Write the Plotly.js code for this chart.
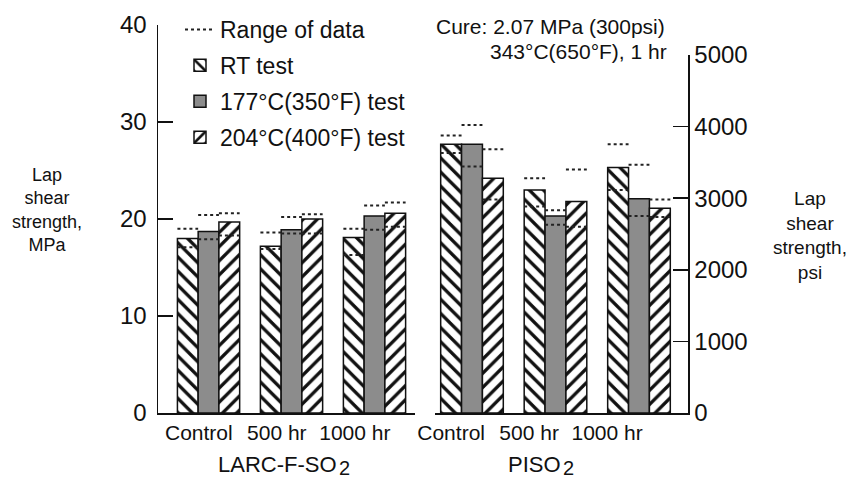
<!DOCTYPE html>
<html><head><meta charset="utf-8">
<script src="https://cdn.plot.ly/plotly-3.0.1.min.js"></script>
<style>html,body{margin:0;padding:0;background:#fff}#chart{width:860px;height:481px}</style>
</head><body><div id="chart"></div>
<script>
// ---------- data ----------
const groups = ['Control', '500 hr', '1000 hr'];
const seriesNames = ['RT test', '177°C(350°F) test', '204°C(400°F) test'];
const rangeName = 'Range of data';
const materials = ['LARC-F-SO', 'PISO'];
const materialSub = '2';

// LARC-F-SO2, lap shear strength (MPa)
const larcRT  = [18.0, 17.2, 18.1];
const larc177 = [18.7, 18.9, 20.3];
const larc204 = [19.7, 20.0, 20.6];
const larcRTHi  = [19.0, 18.6, 19.0];
const larcRTLo  = [17.1, 16.9, 16.3];
const larc177Hi = [20.4, 20.2, 21.4];
const larc177Lo = [17.9, 18.5, 18.9];
const larc204Hi = [20.6, 20.5, 21.7];
const larc204Lo = [18.3, 18.5, 19.2];

// PISO2, lap shear strength (MPa)
const pisoRT  = [27.7, 23.0, 25.3];
const piso177 = [27.7, 20.3, 22.1];
const piso204 = [24.2, 21.8, 21.1];
const pisoRTHi  = [28.6, 24.2, 27.7];
const pisoRTLo  = [26.8, 21.3, 23.0];
const piso177Hi = [29.7, 20.9, 25.6];
const piso177Lo = [25.4, 19.4, 20.3];
const piso204Hi = [27.2, 25.1, 22.0];
const piso204Lo = [22.0, 19.2, 20.2];

const mpaTicks = [0, 10, 20, 30, 40];
const psiTicks = [0, 1000, 2000, 3000, 4000, 5000];

// ---------- styling / layout helpers ----------
const BW = 0.25;          // bar width (axis units)
const INK = '#111';
const FONT = '"Liberation Sans", Arial, Helvetica, sans-serif';
const W = 860, H = 481, ML = 158, MR = 172, MT = 4, MB = 68;
const PW = W - ML - MR, PH = H - MT - MB;
const px = v => (v - ML) / PW;
const py = v => (H - MB - v) / PH;

const barStyles = [
  {color: '#fff', pattern: {shape: '\\', fgcolor: INK, bgcolor: '#fff', size: 10, solidity: 0.33}},
  {color: '#8c8c8c', pattern: {shape: ''}},
  {color: '#fff', pattern: {shape: '/', fgcolor: INK, bgcolor: '#fff', size: 10, solidity: 0.33}}
];

function barTrace(vals, k, xa, show) {
  return {
    type: 'bar', x: groups.map((g, i) => i + (k - 1) * BW), y: vals, width: BW,
    xaxis: xa, yaxis: 'y', name: seriesNames[k], legendgroup: 's' + k, legendrank: k + 2,
    showlegend: show, hoverinfo: 'skip',
    marker: {color: barStyles[k].color, pattern: barStyles[k].pattern, line: {color: INK, width: 1.5}}
  };
}

function rangeTrace(his, los, xa, show) {
  const x = [], y = [];
  for (let k = 0; k < 3; k++) {
    for (let i = 0; i < groups.length; i++) {
      const c = i + (k - 1) * BW;
      [his[k][i], los[k][i]].forEach(v => {
        x.push(c - BW / 2, c + BW / 2, null);
        y.push(v, v, null);
      });
    }
  }
  return {
    type: 'scatter', mode: 'lines', x: x, y: y, xaxis: xa, yaxis: 'y',
    name: rangeName, legendgroup: 'range', legendrank: 1, showlegend: show, hoverinfo: 'skip',
    line: {color: '#222', width: 2, dash: 'dot'}
  };
}

const data = [
  barTrace(larcRT, 0, 'x', true),
  barTrace(larc177, 1, 'x', true),
  barTrace(larc204, 2, 'x', true),
  barTrace(pisoRT, 0, 'x2', false),
  barTrace(piso177, 1, 'x2', false),
  barTrace(piso204, 2, 'x2', false),
  rangeTrace([larcRTHi, larc177Hi, larc204Hi], [larcRTLo, larc177Lo, larc204Lo], 'x', true),
  rangeTrace([pisoRTHi, piso177Hi, piso204Hi], [pisoRTLo, piso177Lo, piso204Lo], 'x2', false),
  {type: 'scatter', x: [null], y: [null], xaxis: 'x2', yaxis: 'y2', showlegend: false, hoverinfo: 'skip'}
];

const axLine = {showline: true, linecolor: INK, linewidth: 1.5, showgrid: false, zeroline: false, fixedrange: true};

function note(text, x, y, xanchor, size) {
  return {text: text, xref: 'paper', yref: 'paper', x: px(x), y: py(y), xanchor: xanchor, yanchor: 'middle',
          showarrow: false, font: {size: size, color: INK}, align: 'center', borderpad: 0};
}

const annotations = [
  note('Lap<br>shear<br>strength,<br>MPa', 47, 210, 'center', 18),
  note('Lap<br>shear<br>strength,<br>psi', 810, 236, 'center', 19),
  note('Cure: 2.07 MPa (300psi)', 666, 26.5, 'right', 21),
  note('343°C(650°F), 1 hr', 668, 51.5, 'right', 21),
  note(materials[0], 338, 465, 'right', 22),
  note(materialSub, 338, 468, 'left', 20),
  note(materials[1], 562, 465, 'right', 22),
  note(materialSub, 562, 468, 'left', 20)
];

const layout = {
  width: W, height: H,
  margin: {l: ML, r: MR, t: MT, b: MB, pad: 0},
  paper_bgcolor: '#fff', plot_bgcolor: 'rgba(0,0,0,0)',
  font: {family: FONT, size: 21, color: INK},
  barmode: 'overlay',
  showlegend: true,
  legend: {x: px(180), y: py(8), xanchor: 'left', yanchor: 'top', font: {size: 23, color: INK},
           traceorder: 'grouped', tracegroupgap: 3, bgcolor: 'rgba(0,0,0,0)', borderwidth: 0},
  xaxis: Object.assign({}, axLine, {
    domain: [0, px(415)], range: [-0.609, 2.488], anchor: 'y', ticks: '',
    tickmode: 'array', tickvals: groups.map((g, i) => -0.117 + 0.94 * i), ticktext: groups
  }),
  xaxis2: Object.assign({}, axLine, {
    domain: [px(435), 1], range: [-0.443, 2.587], anchor: 'y2', ticks: '',
    tickmode: 'array', tickvals: groups.map((g, i) => -0.25 + 0.934 * i), ticktext: groups
  }),
  yaxis: Object.assign({}, axLine, {
    domain: [0, py(25)], range: [0, 40], anchor: 'x', tickmode: 'array', tickvals: mpaTicks,
    ticks: 'inside', ticklen: 15, tickwidth: 1.5, tickcolor: INK, tickfont: {size: 24}, ticklabelstandoff: 5
  }),
  yaxis2: Object.assign({}, axLine, {
    domain: [0, py(55)], range: [0, 5000], anchor: 'x2', side: 'right', tickmode: 'array', tickvals: psiTicks,
    ticks: 'inside', ticklen: 15, tickwidth: 1.5, tickcolor: INK, tickfont: {size: 24}
  }),
  annotations: annotations
};

Plotly.newPlot('chart', data, layout, {staticPlot: true, displayModeBar: false});
</script>
</body></html>
